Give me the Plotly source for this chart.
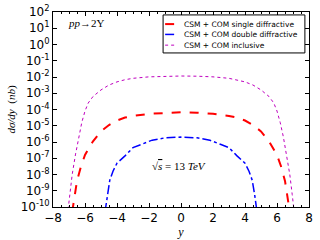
import plotly.graph_objects as go

# rapidity grid (|y|) and cross sections dσ/dy in nb (symmetric in y)
y_incl = [0, 1, 2, 3, 3.5, 4, 4.5, 5, 5.5, 5.8, 6.0, 6.2, 6.4, 6.6, 6.8, 6.95, 7.1]
s_incl = [1.15e-2, 1.12e-2, 1.02e-2, 8.3e-3, 6.8e-3, 5.0e-3, 3.2e-3, 1.6e-3, 6.3e-4, 2.5e-4,
          8e-5, 1.6e-5, 2e-6, 1.6e-7, 1e-8, 6e-10, 3e-11]

y_sd = [0, 1, 2, 3, 3.5, 4, 4.5, 5, 5.5, 6.0, 6.25, 6.5, 6.65, 6.8]
s_sd = [6.8e-5, 6.3e-5, 5.4e-5, 4.0e-5, 3.2e-5, 2.1e-5, 1.1e-5, 4.5e-6, 1.1e-6,
        1.6e-7, 3.2e-8, 4e-9, 6.3e-10, 5e-11]

y_dd = [0, 1, 1.8, 2.5, 3, 3.5, 4, 4.25, 4.45, 4.6, 4.75]
s_dd = [2.0e-6, 1.8e-6, 1.3e-6, 7e-7, 4.5e-7, 1.4e-7, 5e-8, 1.6e-8, 4.5e-9, 6e-10, 5e-11]

series = [
    ("CSM + COM single diffractive", y_sd, s_sd, "#ff0000", "dash", 2),
    ("CSM + COM double diffractive", y_dd, s_dd, "#0000ff", "dashdot", 1.5),
    ("CSM + COM inclusive", y_incl, s_incl, "#bf00bf", "dot", 1),
]

ytick_exp = list(range(-10, 3))
xtick_vals = [-8, -6, -4, -2, 0, 2, 4, 6, 8]

fig = go.Figure()
for name, yy, ss, col, dash, w in series:
    xs = [-v for v in yy[::-1]] + yy[1:]
    vs = ss[::-1] + ss[1:]
    fig.add_trace(go.Scatter(x=xs, y=vs, mode="lines", name=name, showlegend=False,
                             line=dict(color=col, dash=dash, width=w)))

axis_common = dict(showline=True, linecolor="black", linewidth=1, mirror="allticks",
                   ticks="inside", ticklen=4, tickcolor="black", showgrid=False, zeroline=False,
                   automargin=False)

fig.update_xaxes(range=[-8, 8], tickvals=xtick_vals,
                 ticktext=[("\u2212" + str(-v)) if v < 0 else str(v) for v in xtick_vals],
                 tickfont=dict(family="DejaVu Sans", size=12, color="black"),
                 minor=dict(dtick=0.5, ticks="inside", ticklen=2, tickcolor="black"),
                 title=dict(text="<i>y</i>", font=dict(family="Liberation Serif", size=12, color="black"),
                            standoff=1),
                 **axis_common)
fig.update_yaxes(type="log", range=[-10, 2], tickvals=[10.0 ** e for e in ytick_exp],
                 ticktext=["10<sup>%d</sup>" % e for e in ytick_exp],
                 tickfont=dict(family="DejaVu Sans", size=12, color="black"),
                 title=dict(text="<i>dσ/dy</i>  (<i>nb</i>)",
                            font=dict(family="Liberation Serif", size=11, color="black"), standoff=2),
                 **axis_common)

fig.add_annotation(text="<i>pp</i>→2Υ", xref="paper", yref="paper", x=0.05, y=0.985,
                   xanchor="left", yanchor="top", showarrow=False,
                   font=dict(family="Liberation Serif", size=11, color="black"))
fig.add_annotation(text="√<span style='text-decoration:overline'><i>s</i></span> = 13 <i>TeV</i>",
                   xref="paper", yref="paper", x=0.38, y=0.21, xanchor="left", yanchor="middle",
                   showarrow=False, font=dict(family="Liberation Serif", size=11, color="black"))

# legend box (compact, matplotlib-like)
leg_x0, leg_x1, leg_y0, leg_y1 = 0.43, 0.984, 0.79, 0.985
row_y = [0.938, 0.885, 0.830]
fig.add_shape(type="rect", xref="paper", yref="paper", x0=leg_x0, x1=leg_x1, y0=leg_y0, y1=leg_y1,
              line=dict(color="black", width=1), fillcolor="white", layer="above")
for (name, _, _, col, dash, w), ry in zip(series, row_y):
    fig.add_shape(type="line", xref="paper", yref="paper", x0=0.438, x1=0.475, y0=ry, y1=ry,
                  line=dict(color=col, dash=dash, width=w), layer="above")
    fig.add_annotation(text=name, xref="paper", yref="paper", x=0.505, y=ry,
                       xanchor="left", yanchor="middle", showarrow=False,
                       font=dict(family="DejaVu Sans", size=7.5, color="black"))

fig.update_layout(width=320, height=240, margin=dict(l=53, r=11, t=12, b=33),
                  paper_bgcolor="white", plot_bgcolor="white", showlegend=False,
                  font=dict(color="black"))

fig.write_html("out.html", config={"displayModeBar": False},
               post_script="document.body.style.margin='0';")
